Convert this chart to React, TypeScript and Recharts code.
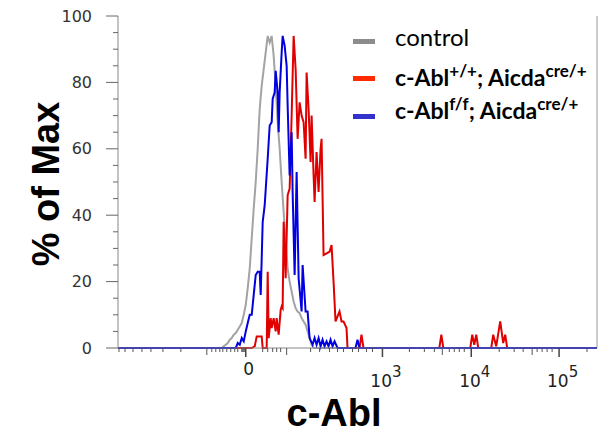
import React from 'react';
import { LineChart, Line, XAxis, YAxis, ReferenceLine, Label } from 'recharts';

// channels on the biexponential display scale (0..240), % of max per channel
const controlCh = [0, 52, 53, 54, 55, 56, 57, 58, 59, 60, 61, 62, 63, 64, 65, 66, 67, 68, 69, 70, 71, 72, 73, 74, 75, 76, 77, 78, 79, 80, 81, 82, 83, 84, 85, 86, 87, 88, 89, 90, 91, 92, 93, 94, 95, 96, 97, 98, 240];
const controlPct = [0, 0, 0.5, 1, 1.5, 2.5, 3, 4, 4.5, 5.5, 6.5, 7.5, 10, 13, 18, 24, 33, 42, 50, 60, 72, 79, 84, 89, 94, 92, 94, 88, 79, 68, 60, 50, 41, 32, 24, 20, 17, 14, 12, 11, 10.5, 9, 8, 7, 5, 3, 1, 0, 0];

const wtCh = [0, 67, 68.5, 69.5, 72, 72.5, 74.5, 75, 75.5, 76.5, 77, 78, 79, 79.5, 80.5, 81.5, 82, 82.5, 83, 84, 85, 86, 87, 88, 89, 90, 91, 92, 93, 94, 94.5, 95.5, 96.5, 97, 98, 98.5, 99.5, 100.5, 101.5, 102, 103, 106, 107, 108, 109, 111, 112, 113, 114.5, 115, 121, 122, 123, 161, 162, 163, 176.5, 177.5, 178.5, 179.5, 180.5, 187, 188, 189.5, 191.5, 193, 194, 195, 240];
const wtPct = [0, 0, 0.5, 3.5, 3.5, 0, 0, 23, 3, 9, 6, 9, 5, 9, 4, 11.5, 12.5, 12, 38, 21, 46, 48, 70, 94, 84, 63, 74, 70, 68, 57, 83, 72, 56, 70, 52, 44, 59, 47, 60, 63, 28, 29, 31, 20, 8, 11, 8, 8, 6, 0, 0, 4, 0, 0, 4, 0, 0, 4, 1, 4, 0, 0, 4, 0.5, 8, 1.5, 4, 0, 0];

const koCh = [0, 59, 60, 61, 62, 63, 64, 65, 66, 67, 68, 69, 70, 71, 71.5, 72, 72.5, 73.5, 75, 76, 77, 77.5, 78.5, 79, 80, 80.5, 81, 82, 82.5, 83.5, 84.5, 85, 86, 87, 87.5, 88.5, 89.5, 90.5, 92, 92.5, 94, 95, 96, 97.5, 98.5, 99.5, 100.5, 101.5, 102.5, 103.5, 104.5, 105.5, 106.5, 107.5, 108.5, 110, 119, 120, 121, 240];
const koPct = [0, 0, 1.5, 1, 3, 2, 5, 7.5, 10, 10, 16, 22, 23, 23, 16, 27, 38, 43, 57, 67, 68, 75, 77, 83.5, 77, 65, 77, 89, 94, 91, 85, 73, 52, 65, 47, 22, 53, 21, 11, 25, 11, 11, 3, 1, 3, 1, 3, 0.5, 2.5, 0.5, 2, 0.5, 2.5, 0.5, 2, 0, 0, 2.5, 0, 0];

const yTicks = [0, 5, 10, 15, 20, 25, 30, 35, 40, 45, 50, 55, 60, 65, 70, 75, 80, 85, 90, 95, 100];
const xMajorTicks = [64, 132.5, 177, 221];
const xMajorLabels = [['0', ''], ['10', '3'], ['10', '4'], ['10', '5']];
const xMediumTicks = [44.5, 84.5, 162.5, 207.5];
const xMinorTicks = [0.5, 3.5, 7.5, 12, 16.5, 22.5, 31.5, 47, 49, 51, 52.5, 54.5, 56.5, 58.5, 60, 62, 62.5, 63, 63.5,
  72.5, 75, 77.5, 79.5, 81.5, 96.5, 101, 106, 110, 113, 117.5, 120.5, 124.5, 127.5,
  146, 153.5, 158.5, 166, 168.5, 171, 173.5, 191, 198.5, 203, 210, 212.5, 215, 217.5, 235];

const series = [
  { key: 'control', ch: controlCh, pct: controlPct, color: '#a3a3a3', swatch: '#8c8c8c' },
  { key: 'wt', ch: wtCh, pct: wtPct, color: '#e00000', swatch: '#ff2a00' },
  { key: 'ko', ch: koCh, pct: koPct, color: '#0000e0', swatch: '#3333cc' },
];

const toPoints = (ch: number[], pct: number[]) => ch.map((c, i) => ({ ch: c, pct: pct[i] }));

const YTick = (props: any) => {
  const { x, y, payload } = props;
  const major = payload.value % 20 === 0;
  return (
    <g>
      <line x1={x - (major ? 12 : 5)} x2={x} y1={y} y2={y} stroke="#666" />
      {major && (
        <text x={92} y={y} textAnchor="end" dominantBaseline="central" fontSize={16} fill="#333" fontFamily="DejaVu Sans">
          {payload.value}
        </text>
      )}
    </g>
  );
};

const XTick = (props: any) => {
  const { x, y, payload } = props;
  const v = payload.value;
  const mi = xMajorTicks.indexOf(v);
  if (mi >= 0) {
    const [base, sup] = xMajorLabels[mi];
    return (
      <g>
        <line x1={x} x2={x} y1={y} y2={y + 9} stroke="#444" strokeWidth={1.5} />
        {sup === '' ? (
          <text x={x + 3} y={y + 27} textAnchor="middle" fontSize={17} fill="#222" fontFamily="DejaVu Sans">{base}</text>
        ) : (
          <text x={x + 3.5} y={y + 39} textAnchor="middle" fontSize={17} fill="#222" fontFamily="DejaVu Sans">
            {base}
            <tspan dy={-10} fontSize={15}>{sup}</tspan>
          </text>
        )}
      </g>
    );
  }
  const len = xMediumTicks.indexOf(v) >= 0 ? 7 : 4;
  return <line x1={x} x2={x} y1={y} y2={y + len} stroke="#555" />;
};

const supStyle: React.CSSProperties = { fontSize: 17, verticalAlign: 'super', lineHeight: 0 };

export default function App() {
  return (
    <div style={{ position: 'absolute', left: 0, top: 0, width: 598, height: 439, background: '#fff' }}>
      <LineChart width={598} height={439} margin={{ top: 16, right: 1, left: 0, bottom: 0 }}>
        <XAxis
          type="number"
          dataKey="ch"
          domain={[0, 240]}
          ticks={[...xMinorTicks, ...xMediumTicks, ...xMajorTicks]}
          interval={0}
          tickSize={0}
          tickMargin={0}
          tickLine={false}
          tick={<XTick />}
          height={91}
          stroke="#888"
          allowDuplicatedCategory={false}
        >
          <Label
            content={() => (
              <text x={334} y={426} textAnchor="middle" fontSize={38} fontWeight="bold" fontFamily="Liberation Sans" fill="#000">
                c-Abl
              </text>
            )}
          />
        </XAxis>
        <YAxis
          type="number"
          domain={[0, 100]}
          ticks={yTicks}
          interval={0}
          tickSize={0}
          tickMargin={0}
          tickLine={false}
          tick={<YTick />}
          width={118}
          stroke="#888"
        >
          <Label
            content={() => (
              <text x={59} y={184} transform="rotate(-90, 59, 184)" textAnchor="middle" fontSize={38} fontWeight="bold" fontFamily="Liberation Sans" fill="#000">
                % of Max
              </text>
            )}
          />
        </YAxis>
        <ReferenceLine x={240} stroke="#999" />
        {series.map(s => (
          <Line
            key={s.key}
            data={toPoints(s.ch, s.pct)}
            dataKey="pct"
            type="linear"
            stroke={s.color}
            strokeWidth={2}
            dot={false}
            isAnimationActive={false}
          />
        ))}
      </LineChart>
      <div style={{ position: 'absolute', left: 353, top: 38.5, width: 22, height: 5, background: series[0].swatch }} />
      <div style={{ position: 'absolute', left: 353, top: 76, width: 22, height: 5, background: series[1].swatch }} />
      <div style={{ position: 'absolute', left: 353, top: 113.5, width: 22, height: 5, background: series[2].swatch }} />
      <div style={{ position: 'absolute', left: 395, top: 25, fontFamily: 'Lato', fontSize: 24, lineHeight: '24px', whiteSpace: 'nowrap' }}>control</div>
      <div style={{ position: 'absolute', left: 395, top: 66, fontFamily: 'Lato', fontWeight: 'bold', fontSize: 23, lineHeight: '23px', whiteSpace: 'nowrap' }}>
        c-Abl<span style={supStyle}>+/+</span>; Aicda<span style={supStyle}>cre/+</span>
      </div>
      <div style={{ position: 'absolute', left: 395, top: 99, fontFamily: 'Lato', fontWeight: 'bold', fontSize: 23, lineHeight: '23px', whiteSpace: 'nowrap' }}>
        c-Abl<span style={supStyle}>f/f</span>; Aicda<span style={supStyle}>cre/+</span>
      </div>
    </div>
  );
}
